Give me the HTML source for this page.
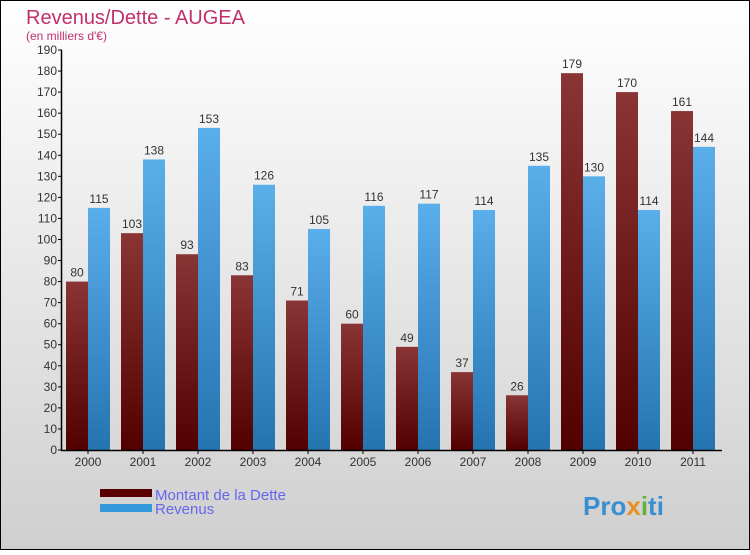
<!DOCTYPE html>
<html><head><meta charset="utf-8"><style>
body{margin:0}
#c{width:750px;height:550px;position:relative;font-family:"Liberation Sans",sans-serif}
</style></head><body>
<div id="c">
<svg id="s" width="750" height="550" xmlns="http://www.w3.org/2000/svg">
<defs>
<linearGradient id="bg" x1="0" y1="0" x2="0" y2="1"><stop offset="0" stop-color="#ffffff"/><stop offset="1" stop-color="#cfcfcf"/></linearGradient>
<linearGradient id="gd" x1="0" y1="0" x2="0" y2="1"><stop offset="0" stop-color="#8a3535"/><stop offset="1" stop-color="#520000"/></linearGradient>
<linearGradient id="gr" x1="0" y1="0" x2="0" y2="1"><stop offset="0" stop-color="#5aaeea"/><stop offset="1" stop-color="#2474b0"/></linearGradient>
</defs>
<rect x="0.5" y="0.5" width="749" height="549" fill="url(#bg)" stroke="#000"/>
<text x="26" y="24" font-size="20" fill="#c0306a">Revenus/Dette - AUGEA</text>
<text x="26" y="40" font-size="12" fill="#c0306a">(en milliers d'€)</text>
<g id="bars"></g>
<g id="axes"></g>
<rect x="100" y="489" width="52" height="8" fill="#5a0000"/>
<rect x="100" y="504" width="52" height="8" fill="#3498dc"/>
<text x="155" y="500" font-size="15" fill="#6666ee">Montant de la Dette</text>
<text x="155" y="514" font-size="15" fill="#6666ee">Revenus</text>
<text x="583" y="515" font-size="26" font-weight="bold" fill="#3a8fd0">Pro<tspan fill="#e89020">x</tspan><tspan fill="#60b040">i</tspan>ti</text>
</svg>
</div>
<script>
const years=["2000","2001","2002","2003","2004","2005","2006","2007","2008","2009","2010","2011"];
const dette=[80,103,93,83,71,60,49,37,26,179,170,161];
const revenus=[115,138,153,126,105,116,117,114,135,130,114,144];
const yTicks=[0,10,20,30,40,50,60,70,80,90,100,110,120,130,140,150,160,170,180,190];
const NS="http://www.w3.org/2000/svg";
const x0=62,gw=55,yb=450,yt=50,ymax=190;
const Y=v=>yb-(v/ymax)*(yb-yt);
function mk(t,a,p){const e=document.createElementNS(NS,t);for(const k in a)e.setAttribute(k,a[k]);p.appendChild(e);return e;}
const bars=document.getElementById('bars'),axes=document.getElementById('axes');
years.forEach((yr,i)=>{
  const gx=x0+i*gw;
  [[dette[i],gx+4,'url(#gd)','dette'],[revenus[i],gx+26,'url(#gr)','revenus']].forEach(([v,bx,f,n])=>{
    const r=mk('rect',{x:bx,y:Y(v),width:22,height:yb-Y(v),fill:f},bars);
    
    
    const t=mk('text',{x:bx+11,y:Y(v)-5,'font-size':12,fill:'#333','text-anchor':'middle'},bars);
    t.textContent=v;
    
    
  });
  const tk=mk('line',{x1:gx+26,x2:gx+26,y1:yb,y2:yb+4,stroke:'#000'},axes);
  
  
  const l=mk('text',{x:gx+26,y:yb+16,'font-size':12,fill:'#333','text-anchor':'middle'},axes);
  l.textContent=yr;
  
  
});
yTicks.forEach(v=>{
  const tk=mk('line',{x1:58,x2:62,y1:Y(v),y2:Y(v),stroke:'#000'},axes);
  
  
  const t=mk('text',{x:57,y:Y(v)+4,'font-size':12,fill:'#333','text-anchor':'end'},axes);
  t.textContent=v;
  
  
});
const ya=mk('line',{x1:61.5,x2:61.5,y1:yt,y2:yb,stroke:'#000','stroke-width':1.5},axes);


const xa=mk('line',{x1:61,x2:722,y1:yb+0.5,y2:yb+0.5,stroke:'#000','stroke-width':1.5},axes);


</script>
</body></html>
